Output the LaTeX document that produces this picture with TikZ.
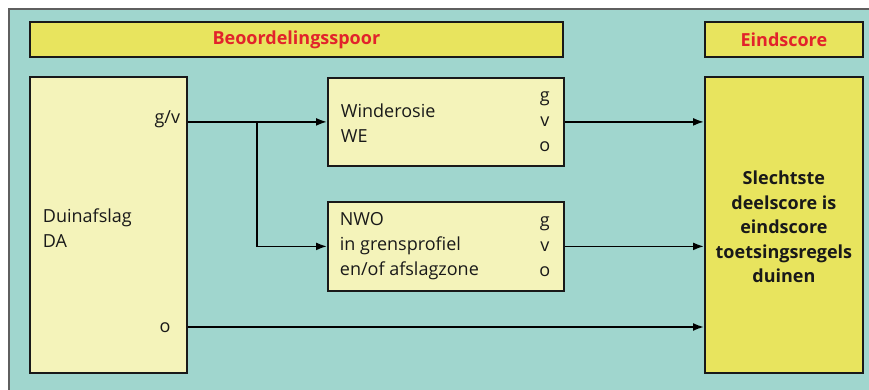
\documentclass[tikz,border=0pt]{standalone}
\usepackage{fontspec}
\setmainfont{Open Sans}
\usepackage{tikz}
\usetikzlibrary{calc, arrows.meta}

\definecolor{sea}{RGB}{160,214,206}
\definecolor{hiyel}{RGB}{232,228,94}
\definecolor{loyel}{RGB}{244,243,186}
\definecolor{redtxt}{RGB}{226,35,43}
\definecolor{rim}{RGB}{95,95,95}
\definecolor{ink}{RGB}{25,25,25}

\begin{document}
\begin{tikzpicture}[x=1pt,y=-1pt,inner sep=0pt,>={Latex[length=11pt,width=8pt]},line width=1.8pt,
  every node/.style={font=\fontsize{18}{25}\selectfont,text=ink},
  box/.style={draw=ink,anchor=north west,line width=1.8pt},
  hdr/.style={box,fill=hiyel,minimum height=35pt,font=\fontsize{18}{25}\selectfont\bfseries,text=redtxt}]
\useasboundingbox (0,0) rectangle (869,390);
\fill[sea] (9,9) rectangle (869,390);
\draw[rim,line width=1.8pt] (9,390) -- (9,9) -- (869,9);
% headers
\draw node [hdr,minimum width=533pt] (HB) at (29,21) {Beoordelingsspoor};
\draw node [hdr,minimum width=158pt] (HE) at (704,21) {Eindscore};
% boxes
\draw node [box,fill=loyel,minimum width=157pt,minimum height=296pt] (DA) at (29,76) {};
\draw node [box,fill=loyel,minimum width=236pt,minimum height=88pt] (WE) at (327,77) {};
\draw node [box,fill=loyel,minimum width=236pt,minimum height=89pt] (NWO) at (327,201) {};
\draw node [box,fill=hiyel,minimum width=158pt,minimum height=296pt] (ES) at (704,76) {};
% texts
\node [anchor=west,align=left] (DAt) at ($(DA.west)+(13,3)$) {Duinafslag\\DA};
\node [anchor=base east] (gv) at (181,124) {g/v};
\node [anchor=base] (lo) at (165,332) {o};
\node [anchor=west,align=left] (WEt) at ($(WE.west)+(13,1)$) {Winderosie\\WE};
\node [align=center] (WEs) at ($(WE.east)+(-20,0)$) {g\\v\\o};
\node [anchor=west,align=left] (NWOt) at ($(NWO.west)+(12,0)$) {NWO\\in grensprofiel\\en/of afslagzone};
\node [align=center] (NWOs) at ($(NWO.east)+(-20,0)$) {g\\v\\o};
\node [align=center,font=\fontsize{18}{24.5}\selectfont\bfseries] (ESt) at ($(ES.center)+(0,2)$) {Slechtste\\deelscore is\\eindscore\\toetsingsregels\\duinen};
% connectors
\coordinate (br) at (257,0);
\draw [->] (DA.east |- WE.west) -- (WE.west);
\draw [->] (br |- WE.west) |- (NWO.west);
\draw [->] (WE.east) -- (WE.east -| ES.west);
\draw [->] (NWO.east) -- (NWO.east -| ES.west);
\draw [->] (DA.east |- 0,327) -- (ES.west |- 0,327);
\end{tikzpicture}
\end{document}
